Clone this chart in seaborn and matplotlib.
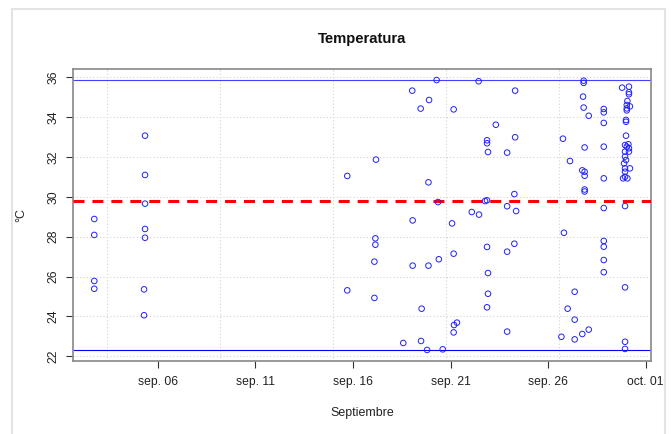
import matplotlib
matplotlib.use("Agg")
import matplotlib.pyplot as plt
import seaborn as sns
import pandas as pd

# ---- data (day of September, temperature °C) ----
dias = [2.75, 2.75, 2.75, 2.75,
        5.35, 5.35, 5.35, 5.35, 5.35, 5.30, 5.30,
        15.71, 15.71,
        17.18, 17.15, 17.15, 17.10, 17.10,
        19.04, 19.06, 19.06, 18.58,
        19.47, 19.49, 19.52,
        19.90, 19.87, 19.87, 19.80,
        20.29, 20.36, 20.40, 20.60,
        21.16, 21.08, 21.16, 21.16, 21.18, 21.33,
        22.09, 22.46, 22.44,
        22.87, 22.87, 22.92, 22.77, 22.87, 22.87, 22.92, 22.92, 22.87,
        23.32,
        23.90, 23.90, 23.90, 23.90,
        24.31, 24.31, 24.27, 24.36, 24.27,
        26.76, 27.12, 26.81, 27.36, 27.00, 27.36, 26.68, 27.36,
        27.82, 27.82, 27.79, 27.82, 28.08, 27.87, 27.75, 27.87, 27.87, 27.87, 27.87, 27.75, 28.08,
        28.85, 28.85, 28.85, 28.85, 28.85, 28.85, 28.85, 28.85, 28.85, 28.85,
        29.79, 30.14, 30.14, 30.14, 30.06, 30.03, 30.19, 30.03, 30.03,
        29.99, 29.99, 29.99, 29.94, 30.11, 30.03, 30.14, 29.94, 30.14,
        29.94, 29.99, 29.89, 30.19, 29.94, 29.94, 29.94, 29.84, 30.06,
        29.94, 29.94, 29.94, 29.94]
temps = [28.89, 28.09, 25.78, 25.39,
         33.07, 31.10, 29.66, 28.39, 27.95, 25.36, 24.06,
         31.05, 25.31,
         31.87, 27.92, 27.60, 26.75, 24.93,
         35.33, 28.82, 26.55, 22.67,
         34.43, 22.77, 24.39,
         34.86, 30.73, 26.55, 22.32,
         35.86, 29.74, 26.87, 22.35,
         34.39, 28.67, 27.15, 23.20, 23.57, 23.69,
         29.24, 29.11, 35.80,
         32.84, 32.69, 32.25, 29.79, 29.83, 27.49, 26.18, 25.14, 24.46,
         33.62,
         32.22, 29.53, 27.25, 23.24,
         35.33, 32.99, 30.14, 29.29, 27.65,
         32.92, 31.80, 28.20, 25.24, 24.39, 23.84, 22.98, 22.85,
         35.83, 35.72, 35.03, 34.48, 34.07, 32.48, 31.33, 31.26, 31.06, 30.37, 30.27, 23.12, 23.34,
         34.41, 34.24, 33.71, 32.52, 30.93, 29.44, 27.79, 27.50, 26.83, 26.22,
         35.48, 35.53, 35.25, 35.15, 34.81, 34.61, 34.54, 34.44, 34.34,
         33.86, 33.77, 33.07, 32.60, 32.64, 32.52, 32.44, 32.27, 32.27,
         32.02, 31.85, 31.68, 31.43, 31.43, 31.26, 31.01, 30.93, 30.93,
         29.54, 25.46, 22.73, 22.37]

x_ticks = [6, 11, 16, 21, 26, 31]
x_labels = ["sep. 06", "sep. 11", "sep. 16", "sep. 21", "sep. 26", "oct. 01"]
y_ticks = [22, 24, 26, 28, 30, 32, 34, 36]
temp_max = 35.88
temp_min = 22.30
temp_media = 29.78

df = pd.DataFrame({"dia": dias, "temp": temps})

# ---- figure ----
sns.set_style("white")
plt.rcParams["font.family"] = ["Liberation Sans", "DejaVu Sans"]

W, H = 672, 434
fig = plt.figure(figsize=(W / 100, H / 100), dpi=100)
L, R, T, B = 72.7, 651.0, 69.0, 361.0
ax = fig.add_axes([L / W, 1 - B / H, (R - L) / W, (B - T) / H])

# grid (dotted light gray)
grid_x = [3.39 + 5.787 * k for k in range(6)]
for gx in grid_x:
    ax.axvline(gx, color="#d3d3d3", lw=0.8, ls=(0, (1, 2)), zorder=0)
for gy in y_ticks:
    ax.axhline(gy, color="#d3d3d3", lw=0.8, ls=(0, (1, 2)), zorder=0)

ax.axhline(temp_max, color="#0000ff", lw=0.8, alpha=0.75, zorder=2)
ax.axhline(temp_min, color="#0000ff", lw=0.8, zorder=2)
ax.axhline(temp_media, color="#ff0000", lw=2.2, ls=(0, (3.6, 2.6)), zorder=3)

sns.scatterplot(data=df, x="dia", y="temp", ax=ax, marker="o", s=16,
                facecolor="none", edgecolor="#2020ff", linewidth=0.7, zorder=4)

ax.set_xlim(1.645, 31.27)
ax.set_ylim(21.765, 36.416)
ax.set_xticks(x_ticks)
ax.set_xticklabels(x_labels)
ax.set_yticks(y_ticks)
ax.set_yticklabels([str(v) for v in y_ticks])

ax.tick_params(axis="both", direction="out", length=5, width=0.8, color="#333333",
               labelsize=8.7, labelcolor="#222222", bottom=True, left=True)
ax.tick_params(axis="x", pad=6)
ax.tick_params(axis="y", pad=4.5, labelrotation=90)
for lab in ax.get_yticklabels():
    lab.set_va("center")

for sp in ax.spines.values():
    sp.set_color("#888888")
    sp.set_linewidth(1.2)
    sp.set_visible(True)

ax.set_xlabel("Septiembre", fontsize=8.9, color="#222222")
ax.xaxis.set_label_coords((361.9 - L) / (R - L), (B - 413) / (B - T))
ax.xaxis.label.set_va("center")
ax.set_ylabel("°C", fontsize=8.9, color="#222222")
ax.yaxis.set_label_coords((21.7 - L) / (R - L), 0.5)
ax.yaxis.label.set_va("center")

fig.text(361.9 / W, 1 - 39.3 / H, "Temperatura", ha="center", va="center",
         fontsize=10.7, fontweight="bold", color="#111111")

# outer light frame
fig.add_artist(plt.Line2D([12 / W, 12 / W], [0, 1 - 9 / H], color="#e3e3e3", lw=1.5,
                          transform=fig.transFigure))
fig.add_artist(plt.Line2D([12 / W, 665 / W], [1 - 9 / H, 1 - 9 / H], color="#e3e3e3", lw=1.5,
                          transform=fig.transFigure))
fig.add_artist(plt.Line2D([665 / W, 665 / W], [0, 1 - 9 / H], color="#e3e3e3", lw=1.5,
                          transform=fig.transFigure))

fig.savefig("out.png", dpi=100)
